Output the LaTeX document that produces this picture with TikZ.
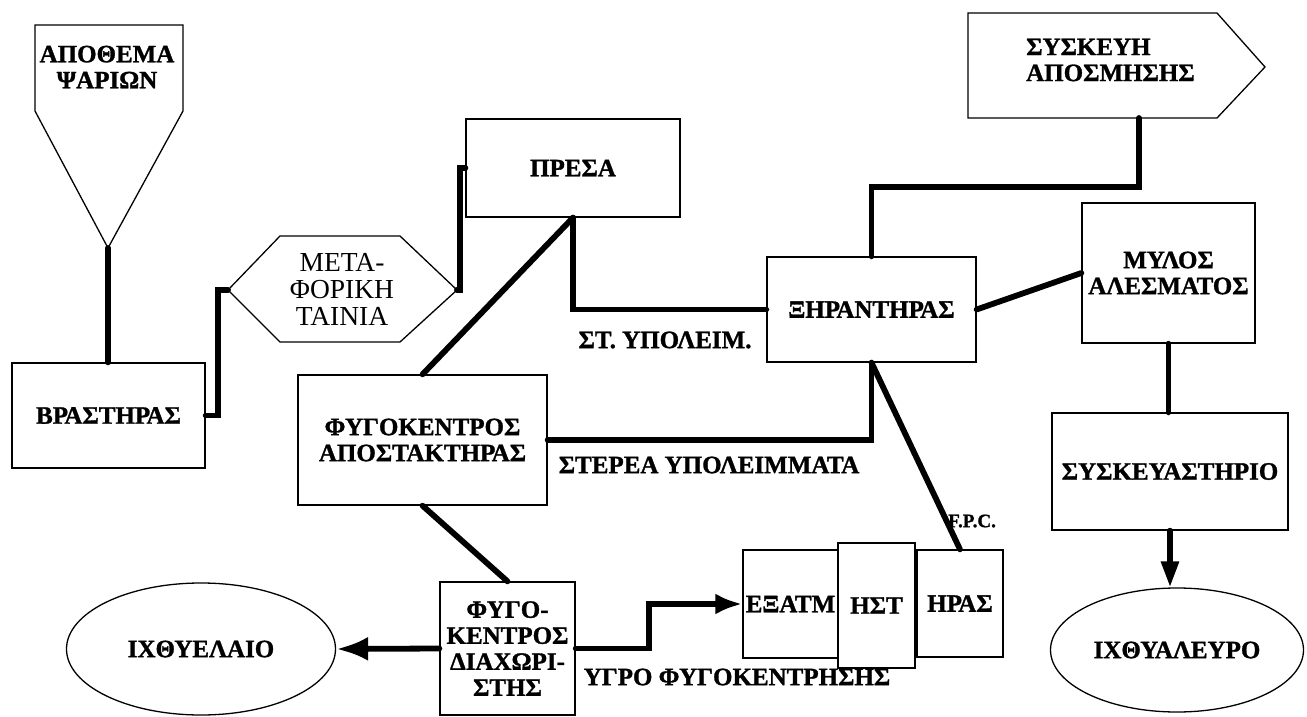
\documentclass[tikz,border=0pt]{standalone}
\usepackage{fontspec}
\setmainfont{Liberation Serif}[BoldFeatures={FakeBold=1.2}]
\usetikzlibrary{shapes.geometric,arrows.meta}
\newcommand\boldlbl{\fontsize{25}{26}\selectfont\bfseries}
\newcommand\smalllbl{\fontsize{19}{20}\selectfont\bfseries}
\newcommand\reglbl{\fontsize{27.5}{27}\selectfont}
\begin{document}
\begin{tikzpicture}[x=1pt,y=-1pt,
  every node/.style={inner sep=0pt},
  box/.style={draw,line width=1.3pt,fill=white,align=center,font=\boldlbl},
  oval/.style={ellipse,draw,line width=1.3pt,align=center,font=\boldlbl},
  outline/.style={draw,line width=1.3pt,line join=miter},
  conn/.style={line width=5.8pt,line cap=round,line join=miter},
  tag/.style={font=\boldlbl,align=center},
  bigtip/.style={-{Latex[length=32pt,width=24pt]}},
  midtip/.style={-{Latex[length=27pt,width=21pt]}},
  thintip/.style={-{Triangle[length=26pt,width=17pt]}}]
\useasboundingbox (0,0) rectangle (1307,717);

% fish stock hopper
\draw[outline] (35,25) -- (183,25) -- (183,111) -- (108,248) -- (35,111) -- cycle;
\coordinate (apex) at (108,248);
\node[tag] (stock) at (107,67) {ΑΠΟΘΕΜΑ\\ΨΑΡΙΩΝ};

% conveyor belt
\draw[outline] (228,290) -- (280,236) -- (400,236) -- (457,290) -- (400,342) -- (280,342) -- cycle;
\coordinate (hexL) at (228,290);
\coordinate (hexR) at (457,290);
\node[font=\reglbl,align=center] (belt) at (342,289) {ΜΕΤΑ-\\ΦΟΡΙΚΗ\\ΤΑΙΝΙΑ};

% deodorising unit
\draw[outline] (968,13) -- (1217,13) -- (1265,67) -- (1217,118) -- (968,118) -- cycle;
\coordinate (odour) at (1139,118);
\node[tag,align=left,anchor=west] (deodor) at (1026,60) {ΣΥΣΚΕΥΗ\\ΑΠΟΣΜΗΣΗΣ};

% process units
\node[box,minimum width=193pt,minimum height=105pt] (boil) at (108.5,415.5) {ΒΡΑΣΤΗΡΑΣ};
\node[box,minimum width=214pt,minimum height=98pt] (press) at (573,168) {ΠΡΕΣΑ};
\node[box,minimum width=209pt,minimum height=105pt] (dryer) at (871.5,309.5) {ΞΗΡΑΝΤΗΡΑΣ};
\node[box,minimum width=249pt,minimum height=130pt] (decant) at (422.5,440) {ΦΥΓΟΚΕΝΤΡΟΣ\\ΑΠΟΣΤΑΚΤΗΡΑΣ};
\node[box,minimum width=135pt,minimum height=133pt] (separ) at (507.5,648.5) {ΦΥΓΟ-\\ΚΕΝΤΡΟΣ\\ΔΙΑΧΩΡΙ-\\ΣΤΗΣ};
\node[box,minimum width=173pt,minimum height=140pt] (mill) at (1168.5,273) {ΜΥΛΟΣ\\ΑΛΕΣΜΑΤΟΣ};
\node[box,minimum width=236pt,minimum height=117pt] (pack) at (1170,471.5) {ΣΥΣΚΕΥΑΣΤΗΡΙΟ};

% evaporator, split in three
\node[box,minimum width=95pt,minimum height=108pt] (evapA) at (790.5,604) {ΕΞΑΤΜ};
\node[box,minimum width=86pt,minimum height=107pt] (evapC) at (960,603.5) {ΗΡΑΣ};
\node[box,minimum width=77pt,minimum height=125pt] (evapB) at (876.5,605.5) {ΗΣΤ};

% products
\node[oval,minimum width=269pt,minimum height=132pt] (oil) at (201,649) {ΙΧΘΥΕΛΑΙΟ};
\node[oval,minimum width=253pt,minimum height=124pt] (meal) at (1177,650) {ΙΧΘΥΑΛΕΥΡΟ};

% flow lines
\draw[conn] (apex) -- (boil.north -| apex);
\draw[conn] (boil.east) -- ++(12,0) |- (hexL);
\draw[conn] (hexR) -- ++(3,0) |- (press.west);
\draw[conn] (press.south) |- (dryer.west);
\draw[conn] (press.south) -- (decant.north);
\draw[conn] (dryer.north) -- ++(0,-69) -| (odour);
\draw[conn] (dryer.east) -- (mill.west);
\draw[conn] (mill.south) -- (mill.south |- pack.north);
\draw[conn,thintip] (pack.south) -- (pack.south |- meal.north);
\draw[conn] (decant.east) -| (dryer.south);
\draw[conn] (dryer.south) -- (evapC.north);
\draw[conn] (decant.south) -- (separ.north);
\draw[conn,bigtip] (separ.west) -- (oil.east);
\draw[conn,midtip] (separ.east) -- ++(73,0) |- (evapA.west);

% stream labels
\node[tag] (solidA) at (665,340) {ΣΤ. ΥΠΟΛΕΙΜ.};
\node[tag] (solidB) at (709,465) {ΣΤΕΡΕΑ ΥΠΟΛΕΙΜΜΑΤΑ};
\node[font=\smalllbl,anchor=west] (fpc) at (948,521) {F.P.C.};
\node[tag] (liquor) at (737,677) {ΥΓΡΟ ΦΥΓΟΚΕΝΤΡΗΣΗΣ};
\end{tikzpicture}
\end{document}
